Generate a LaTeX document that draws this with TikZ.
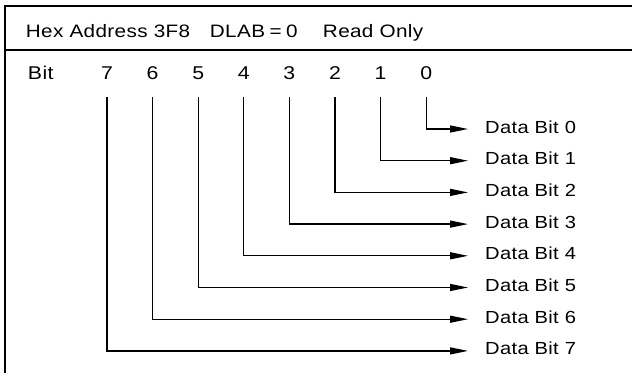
\documentclass[tikz,border=0pt]{standalone}
\usepackage{fontspec}
\setmainfont{Liberation Sans}[FakeStretch=1.15,LetterSpace=2]
\usetikzlibrary{arrows.meta}

\begin{document}
\begin{tikzpicture}[x=1pt,y=-1pt,line width=1.3pt,
    headtext/.style={inner sep=0pt,anchor=base west,font=\fontsize{18}{22}\selectfont},
    bitnum/.style={inner sep=0pt,text height=13pt,text depth=0pt,anchor=south,font=\fontsize{18.5}{22}\selectfont},
    databit/.style={inner sep=0pt,text height=12pt,text depth=4pt,anchor=west,font=\fontsize{17.5}{21}\selectfont}]
  \useasboundingbox (0,0) rectangle (632,373);
  % frame and header rule
  \draw (632,6) -- (5,6) -- (5,373);
  \draw (5,50) -- (632,50);
  \draw
    (25.3,37.3) node[headtext] (addr){Hex Address 3F8}
    (209.3,37.3) node[headtext] (dlab){DLAB\hspace{4.5pt}=\hspace{4.5pt}0}
    (322.3,37.3) node[headtext] (mode){Read Only}
    (27.3,80) node[bitnum,anchor=south west] (bitrow){Bit}
    (107,80) node[bitnum] (b7){7}
    (152.6,80) node[bitnum] (b6){6}
    (198.2,80) node[bitnum] (b5){5}
    (243.8,80) node[bitnum] (b4){4}
    (289.4,80) node[bitnum] (b3){3}
    (335,80) node[bitnum] (b2){2}
    (380.6,80) node[bitnum] (b1){1}
    (426.2,80) node[bitnum] (b0){0}
    (484.5,129) node[databit] (d0){Data Bit 0}
    (484.5,160.7) node[databit] (d1){Data Bit 1}
    (484.5,192.4) node[databit] (d2){Data Bit 2}
    (484.5,224.1) node[databit] (d3){Data Bit 3}
    (484.5,255.8) node[databit] (d4){Data Bit 4}
    (484.5,287.5) node[databit] (d5){Data Bit 5}
    (484.5,319.2) node[databit] (d6){Data Bit 6}
    (484.5,350.9) node[databit] (d7){Data Bit 7};
  \begin{scope}[-{Triangle[length=18pt,width=7pt]},shorten <=17pt,shorten >=16.5pt]
    \draw (b0.south) |- (d0);
    \draw (b1.south) |- (d1);
    \draw (b2.south) |- (d2);
    \draw (b3.south) |- (d3);
    \draw (b4.south) |- (d4);
    \draw (b5.south) |- (d5);
    \draw (b6.south) |- (d6);
    \draw (b7.south) |- (d7);
  \end{scope}
\end{tikzpicture}
\end{document}
